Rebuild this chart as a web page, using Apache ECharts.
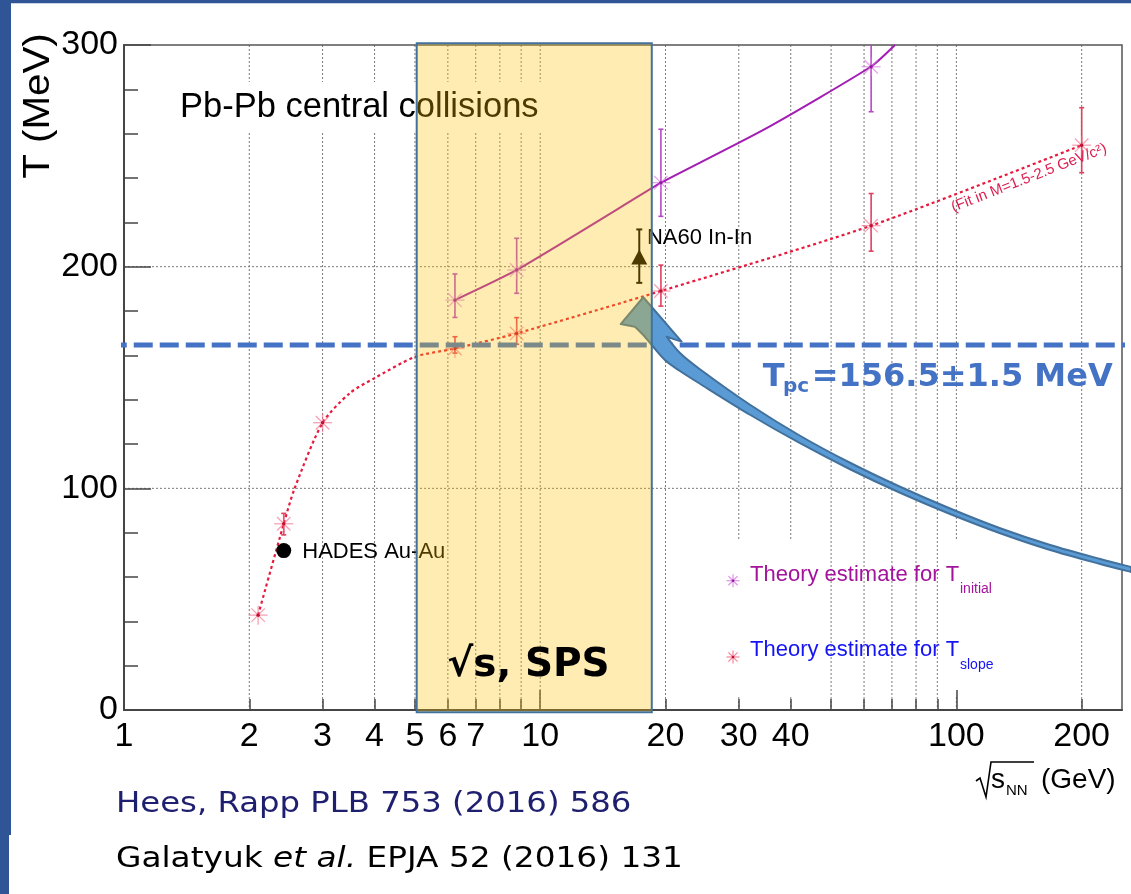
<!DOCTYPE html>
<html><head><meta charset="utf-8">
<script src="https://cdn.jsdelivr.net/npm/echarts@6/dist/echarts.min.js"></script>
<style>html,body{margin:0;padding:0;background:#fff;}#c{width:1131px;height:894px;}</style>
</head><body><div id="c"></div>
<script>
// ---------------- data ----------------
const xTickLabels = [1, 2, 3, 4, 5, 6, 7, 10, 20, 30, 40, 100, 200];
const xMajorTicks = [1, 10, 100];
const xMinorTicks = [2, 3, 4, 5, 6, 7, 8, 9, 20, 30, 40, 50, 60, 70, 80, 90, 200];
const gridXLabeled = [2, 3, 4, 5, 6, 7, 10, 20, 30, 40, 100, 200];
const gridXUnlabeled = [8, 9, 50, 60, 70, 80, 90];
const gridY = [100, 200];

// T_slope theory points (GeV, MeV) with error bar ends
const slopeE  = [2.10, 2.42, 3.0, 6.24, 8.78, 19.5, 62.4, 200];
const slopeT  = [42.8, 84.0, 129.6, 163.1, 169.9, 189.0, 218.5, 254.8];
const slopeLo = [42.8, 79.0, 129.6, 161.0, 165.0, 182.2, 207.0, 242.4];
const slopeHi = [42.8, 88.7, 129.6, 168.4, 177.0, 200.7, 233.0, 271.7];
// dotted fit curve through slope points
const slopeFitE = [2.10, 2.42, 2.57, 3.0, 3.49, 4.0, 5.0, 6.24, 8.78, 19.5, 62.4, 200];
const slopeFitT = [42.8, 84.0, 100.0, 129.6, 143.0, 149.7, 159.3, 163.1, 169.9, 189.0, 218.5, 254.8];

// T_initial theory points
const initE  = [6.24, 8.78, 19.5, 62.4];
const initT  = [184.9, 198.5, 237.9, 290.2];
const initLo = [177.1, 188.0, 222.7, 269.9];
const initHi = [196.7, 212.8, 262.0, 310.0];
const initFitE = [6.24, 8.78, 18.5, 19.5, 35.0, 62.4, 71.2];
const initFitT = [184.9, 198.5, 235.3, 237.9, 262.5, 290.3, 300.0];

// measurements
const na60E = [17.3], na60T = [203.7], na60Lo = [192.7], na60Hi = [216.8];
const hadesE = [2.42], hadesT = [71.9];

// annotations (data coordinates)
const tpcE = [0.914, 263], tpcT = [164.7, 164.7];
const spsE = [5.05, 18.54], spsT = [-1, 300.8];
const arrowHeadE = [17.69, 21.87, 15.61];   // tip, right barb, left barb
const arrowHeadT = [186.2, 166.2, 174.1];
const arrowOuterE = [20.13, 21.67, 24.20, 31.92, 42.10, 55.53, 73.23, 96.58, 127.4, 168.0, 221.6, 263.0];
const arrowOuterT = [168.40, 161.05, 153.72, 137.71, 123.72, 111.54, 100.71, 90.90, 81.99, 74.44, 68.12, 64.51];
const arrowInnerE = [263.0, 221.6, 168.0, 127.4, 96.58, 73.23, 55.53, 42.10, 31.92, 24.20, 21.67, 19.94, 18.53, 17.69, 16.89];
const arrowInnerT = [62.25, 65.86, 72.18, 79.74, 88.42, 98.01, 108.61, 120.34, 133.19, 147.18, 152.93, 157.89, 164.66, 169.17, 172.92];

// ---------------- helpers ----------------
const FONT = 'Liberation Sans';
function asteriskEls(cx, cy, r, color, lw) {
  const out = [];
  [0, Math.PI / 4, Math.PI / 2, 3 * Math.PI / 4].forEach(a => {
    const dx = r * Math.cos(a), dy = r * Math.sin(a);
    out.push({ type: 'line', shape: { x1: cx - dx, y1: cy - dy, x2: cx + dx, y2: cy + dy },
      style: { stroke: color, lineWidth: lw || 1.3 } });
  });
  return out;
}
function gridSeries(vals, vertical, z) {
  return {
    type: 'custom', z: z, silent: true, clip: false,
    data: vals.map(v => vertical ? [v, 0] : [1, v]),
    encode: { x: 0, y: 1 },
    renderItem(params, api) {
      const cs = params.coordSys;
      let shape;
      if (vertical) {
        const p = api.coord([api.value(0), 0]);
        shape = { x1: p[0], y1: cs.y, x2: p[0], y2: cs.y + cs.height };
      } else {
        const p = api.coord([1, api.value(1)]);
        shape = { x1: cs.x, y1: p[1], x2: cs.x + cs.width, y2: p[1] };
      }
      return { type: 'line', shape, style: { stroke: '#7a7a7a', lineWidth: 1, lineDash: [2, 2] } };
    }
  };
}
function pointSeries(E, T, Lo, Hi, markColor, barColor, dotColor) {
  return {
    type: 'custom', z: 7, clip: true, silent: true,
    data: E.map((e, i) => [e, T[i], Lo[i], Hi[i]]),
    encode: { x: 0, y: 1 },
    renderItem(params, api) {
      const c = api.coord([api.value(0), api.value(1)]);
      const lo = api.coord([api.value(0), api.value(2)]);
      const hi = api.coord([api.value(0), api.value(3)]);
      const ch = [];
      if (Math.abs(lo[1] - hi[1]) > 0.5) {
        const st = { stroke: barColor, lineWidth: 1.6 };
        ch.push({ type: 'line', shape: { x1: c[0], y1: lo[1], x2: c[0], y2: hi[1] }, style: st });
        ch.push({ type: 'line', shape: { x1: c[0] - 2.5, y1: lo[1], x2: c[0] + 2.5, y2: lo[1] }, style: st });
        ch.push({ type: 'line', shape: { x1: c[0] - 2.5, y1: hi[1], x2: c[0] + 2.5, y2: hi[1] }, style: st });
      }
      asteriskEls(c[0], c[1], 9.5, markColor, 1.3).forEach(e => ch.push(e));
      ch.push({ type: 'circle', shape: { cx: c[0], cy: c[1], r: 1.7 }, style: { fill: dotColor } });
      return { type: 'group', children: ch };
    }
  };
}
function catmull(pts) {
  let d = '';
  for (let i = 0; i < pts.length - 1; i++) {
    const p0 = pts[i - 1] || pts[i], p1 = pts[i], p2 = pts[i + 1], p3 = pts[i + 2] || p2;
    const c1 = [p1[0] + (p2[0] - p0[0]) / 6, p1[1] + (p2[1] - p0[1]) / 6];
    const c2 = [p2[0] - (p3[0] - p1[0]) / 6, p2[1] - (p3[1] - p1[1]) / 6];
    d += ' C' + c1[0] + ' ' + c1[1] + ' ' + c2[0] + ' ' + c2[1] + ' ' + p2[0] + ' ' + p2[1];
  }
  return d;
}

// ---------------- chart ----------------
const chart = echarts.init(document.getElementById('c'), null, { renderer: 'canvas', width: 1131, height: 894 });

const axisCol = '#454545';
const option = {
  animation: false,
  backgroundColor: '#ffffff',
  grid: { left: 124, right: 9, top: 45, bottom: 184, show: true, borderColor: '#555', borderWidth: 1.5,
          backgroundColor: 'transparent', z: 5, containLabel: false, outerBoundsMode: 'none' },
  xAxis: [
    { type: 'log', logBase: 10, min: 1, max: 250, position: 'bottom', z: 5,
      axisLine: { show: true, lineStyle: { color: axisCol, width: 2 } },
      axisTick: { show: true, inside: true, length: 20, customValues: xMajorTicks, lineStyle: { color: axisCol, width: 1.5 } },
      axisLabel: { show: true, customValues: xTickLabels, formatter: v => String(Math.round(v)),
                   fontSize: 34, fontFamily: FONT, color: '#000', margin: 10 },
      splitLine: { show: false }, minorTick: { show: false }, minorSplitLine: { show: false } },
    { type: 'log', logBase: 10, min: 1, max: 250, position: 'bottom', z: 5,
      axisLine: { show: false },
      axisTick: { show: true, inside: true, length: 11, customValues: xMinorTicks, lineStyle: { color: axisCol, width: 1.5 } },
      axisLabel: { show: false }, splitLine: { show: false } }
  ],
  yAxis: [
    { type: 'value', min: 0, max: 300, interval: 100, z: 5,
      axisLine: { show: true, lineStyle: { color: axisCol, width: 2 } },
      axisTick: { show: true, inside: true, length: 27, lineStyle: { color: axisCol, width: 1.5 } },
      minorTick: { show: true, splitNumber: 5, length: 14, lineStyle: { color: axisCol, width: 1.5 } },
      axisLabel: { fontSize: 34, fontFamily: FONT, color: '#000', margin: 6 },
      splitLine: { show: false } }
  ],
  series: [
    gridSeries(gridXLabeled, true, 1),
    gridSeries(gridY, false, 1),
    gridSeries(gridXUnlabeled, true, 3),
    { type: 'line', z: 6, silent: true, symbol: 'none', smooth: 0.25, clip: true,
      data: slopeFitE.map((e, i) => [e, slopeFitT[i]]),
      lineStyle: { color: '#e8193c', width: 2.2, type: [3, 3] } },
    { type: 'line', z: 6, silent: true, symbol: 'none', smooth: 0.2, clip: true,
      data: initFitE.map((e, i) => [e, initFitT[i]]),
      lineStyle: { color: '#a31cb3', width: 2 } },
    pointSeries(slopeE, slopeT, slopeLo, slopeHi, 'rgba(240,100,130,0.6)', '#e0405f', '#c01030'),
    pointSeries(initE, initT, initLo, initHi, 'rgba(215,120,225,0.65)', '#b548c8', '#8e1a9e'),
    { type: 'custom', z: 7, clip: false, silent: true,
      data: na60E.map((e, i) => [e, na60T[i], na60Lo[i], na60Hi[i]]), encode: { x: 0, y: 1 },
      renderItem(params, api) {
        const c = api.coord([api.value(0), api.value(1)]);
        const lo = api.coord([api.value(0), api.value(2)]);
        const hi = api.coord([api.value(0), api.value(3)]);
        const st = { stroke: '#000', lineWidth: 2 };
        return { type: 'group', children: [
          { type: 'line', shape: { x1: c[0], y1: lo[1], x2: c[0], y2: hi[1] }, style: st },
          { type: 'line', shape: { x1: c[0] - 3, y1: lo[1], x2: c[0] + 3, y2: lo[1] }, style: st },
          { type: 'line', shape: { x1: c[0] - 3, y1: hi[1], x2: c[0] + 3, y2: hi[1] }, style: st },
          { type: 'polygon', shape: { points: [[c[0], c[1] - 9], [c[0] - 8, c[1] + 6], [c[0] + 8, c[1] + 6]] }, style: { fill: '#000' } },
          { type: 'text', x: c[0] + 7.7, y: c[1] - 20.5,
            style: { text: 'NA60 In-In', fontSize: 22, fontFamily: FONT, fill: '#000', align: 'left', verticalAlign: 'middle' } }
        ] };
      } },
    { type: 'scatter', z: 7, silent: true, symbol: 'circle', symbolSize: 15,
      data: hadesE.map((e, i) => [e, hadesT[i]]),
      itemStyle: { color: '#000', opacity: 1 },
      label: { show: true, position: 'right', distance: 11, offset: [0, 1.5], formatter: 'HADES Au-Au',
               fontSize: 22, fontFamily: FONT, color: '#000' } },
    { type: 'line', z: 9, silent: true, symbol: 'none', clip: false,
      data: tpcE.map((e, i) => [e, tpcT[i]]),
      lineStyle: { color: '#4472c4', width: 5, type: [19, 7] } },
    { type: 'custom', z: 10, clip: false, silent: true, data: [[arrowHeadE[0], arrowHeadT[0]]], encode: { x: 0, y: 1 },
      renderItem(params, api) {
        const P = (e, t) => api.coord([e, t]);
        const tip = P(arrowHeadE[0], arrowHeadT[0]);
        const rb = P(arrowHeadE[1], arrowHeadT[1]);
        const lb = P(arrowHeadE[2], arrowHeadT[2]);
        const outer = arrowOuterE.map((e, i) => P(e, arrowOuterT[i]));
        const inner = arrowInnerE.map((e, i) => P(e, arrowInnerT[i]));
        let d = 'M' + tip[0] + ' ' + tip[1] + ' L' + rb[0] + ' ' + rb[1] + ' L' + outer[0][0] + ' ' + outer[0][1];
        d += catmull(outer);
        d += ' L' + inner[0][0] + ' ' + inner[0][1];
        d += catmull(inner);
        d += ' L' + lb[0] + ' ' + lb[1] + ' Z';
        return { type: 'path', shape: { pathData: d },
                 style: { fill: '#5b9bd5', stroke: '#41719c', lineWidth: 2, lineJoin: 'round' } };
      } },
    { type: 'custom', z: 11, clip: false, silent: true, data: [[spsE[0], spsT[0]]], encode: { x: 0, y: 1 },
      renderItem(params, api) {
        const a = api.coord([spsE[0], spsT[1]]);
        const b = api.coord([spsE[1], spsT[0]]);
        return { type: 'rect', shape: { x: a[0], y: a[1], width: b[0] - a[0], height: b[1] - a[1] },
                 style: { fill: 'rgba(255,192,0,0.3)', stroke: '#41719c', lineWidth: 2 } };
      } }
  ],
  graphic: { elements: [
    // slide frame
    { type: 'rect', z: 50, shape: { x: 0, y: 0, width: 1131, height: 3.3 }, style: { fill: '#2f5597' } },
    { type: 'rect', z: 50, shape: { x: 0, y: 0, width: 11, height: 835 }, style: { fill: '#2f5597' } },
    { type: 'rect', z: 50, shape: { x: 0, y: 835, width: 9, height: 59 }, style: { fill: '#2f5597' } },
    // legend background
    { type: 'rect', z: 2, shape: { x: 722, y: 541, width: 278, height: 154 }, style: { fill: '#fff' } },
    // Pb-Pb label
    { type: 'rect', z: 4, shape: { x: 170, y: 82, width: 382, height: 51 }, style: { fill: '#fff' } },
    { type: 'text', z: 4, x: 180, y: 107, style: { text: 'Pb-Pb central collisions', fontSize: 34.5, fontFamily: FONT, fill: '#000', align: 'left', verticalAlign: 'middle' } },
    // y title
    { type: 'text', z: 8, x: 39, y: 106, rotation: Math.PI / 2, scaleX: 1.12,
      style: { text: 'T (MeV)', fontSize: 36, fontFamily: FONT, fill: '#000', align: 'center', verticalAlign: 'middle' } },
    // x title
    { type: 'polyline', z: 8, shape: { points: [[976, 781], [980, 778], [986, 797], [991, 762], [1034, 762]] }, style: { stroke: '#000', lineWidth: 1.6, fill: null } },
    { type: 'text', z: 8, x: 991, y: 780, style: { text: 's', fontSize: 28, fontFamily: FONT, fill: '#000', align: 'left', verticalAlign: 'middle' } },
    { type: 'text', z: 8, x: 1006, y: 791, style: { text: 'NN', fontSize: 15, fontFamily: FONT, fill: '#000', align: 'left', verticalAlign: 'middle' } },
    { type: 'text', z: 8, x: 1041, y: 780, style: { text: '(GeV)', fontSize: 28, fontFamily: FONT, fill: '#000', align: 'left', verticalAlign: 'middle' } },
    // fit label
    { type: 'text', z: 8, x: 1029, y: 178, rotation: 21.3 * Math.PI / 180,
      style: { text: '(Fit in M=1.5-2.5 GeV/c²)', fontSize: 15, fontFamily: FONT, fill: '#dc1e50', align: 'center', verticalAlign: 'middle' } },
    // legend
    ...asteriskEls(733, 580.7, 6.5, 'rgba(215,120,225,0.8)', 1.2).map(e => Object.assign(e, { z: 8 })),
    { type: 'circle', z: 8, shape: { cx: 733, cy: 580.7, r: 1.3 }, style: { fill: '#8e1a9e' } },
    ...asteriskEls(733, 657, 6.5, 'rgba(240,100,130,0.8)', 1.2).map(e => Object.assign(e, { z: 8 })),
    { type: 'circle', z: 8, shape: { cx: 733, cy: 657, r: 1.3 }, style: { fill: '#c01030' } },
    { type: 'text', z: 8, x: 750, y: 575, style: { text: 'Theory estimate for T', fontSize: 22, fontFamily: FONT, fill: '#a3139c', align: 'left', verticalAlign: 'middle' } },
    { type: 'text', z: 8, x: 960, y: 589, style: { text: 'initial', fontSize: 14, fontFamily: FONT, fill: '#a3139c', align: 'left', verticalAlign: 'middle' } },
    { type: 'text', z: 8, x: 750, y: 650, style: { text: 'Theory estimate for T', fontSize: 22, fontFamily: FONT, fill: '#1414f5', align: 'left', verticalAlign: 'middle' } },
    { type: 'text', z: 8, x: 960, y: 665, style: { text: 'slope', fontSize: 14, fontFamily: FONT, fill: '#1414f5', align: 'left', verticalAlign: 'middle' } },
    // T_pc label
    { type: 'text', z: 12, x: 762.7, y: 377.2, style: { text: 'T', fontSize: 32, fontWeight: 'bold', fontFamily: 'DejaVu Sans', fill: '#4472c4', align: 'left', verticalAlign: 'middle' } },
    { type: 'text', z: 12, x: 783, y: 386.4, style: { text: 'pc', fontSize: 20, fontWeight: 'bold', fontFamily: 'DejaVu Sans', fill: '#4472c4', align: 'left', verticalAlign: 'middle' } },
    { type: 'text', z: 12, x: 811.7, y: 377.2, style: { text: '=156.5±1.5 MeV', fontSize: 32, fontWeight: 'bold', fontFamily: 'DejaVu Sans', fill: '#4472c4', align: 'left', verticalAlign: 'middle' } },
    // SPS label
    { type: 'text', z: 12, x: 528.5, y: 666, style: { text: '√s, SPS', fontSize: 39, fontWeight: 'bold', fontFamily: 'DejaVu Sans', fill: '#000', align: 'center', verticalAlign: 'middle' } },
    // citations
    { type: 'text', z: 12, x: 116, y: 804, scaleX: 1.114, style: { text: 'Hees, Rapp PLB 753 (2016) 586', fontSize: 29, fontFamily: 'DejaVu Sans', fill: '#1f1f70', align: 'left', verticalAlign: 'middle' } },
    { type: 'text', z: 12, x: 116, y: 859, scaleX: 1.13, style: { text: '{n|Galatyuk }{i|et al.}{n| EPJA 52 (2016) 131}', align: 'left', verticalAlign: 'middle',
      rich: { n: { fontSize: 29, fontFamily: 'DejaVu Sans', fill: '#000', color: '#000' },
              i: { fontSize: 29, fontFamily: 'DejaVu Sans', fontStyle: 'italic', fill: '#000', color: '#000' } } } }
  ] }
};
chart.setOption(option);
</script>
</body></html>
